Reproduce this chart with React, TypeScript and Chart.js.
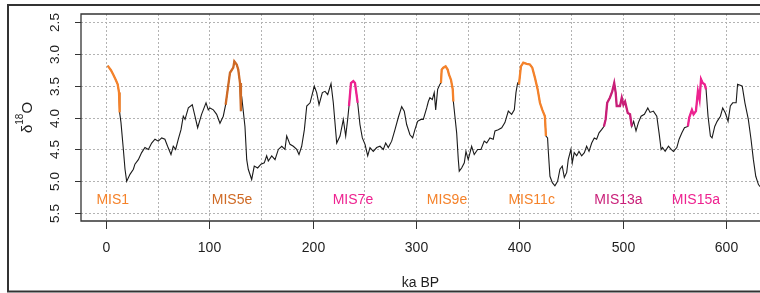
import { useEffect, useRef } from "react";
import { Chart, registerables } from "chart.js";

Chart.register(...registerables);

// Age (ka BP) and benthic δ18O values
const ages = [
  1.6, 3, 4.8, 7.1, 9.4, 11.3, 12.6, 13.2, 14.5, 16.8, 18.4, 20, 23.2, 26.5, 28, 31.3, 34.5, 37.7, 41, 44.2,
  47.4, 50.6, 53.9, 57, 59.6, 62.9, 65.1, 67.4, 70, 72.6, 74.8, 76.5, 79.7, 83.5, 86.1, 88.7, 92.5, 96.8, 99,
  100.6, 103.9, 107.1, 110.3, 113.5, 115.8, 117.8, 120, 123.2, 124.2, 126.5, 128, 129.7, 130.6, 131.3, 134.5,
  136.2, 137.7, 141, 143.5, 146.8, 150, 153.2, 155.5, 157.1, 160.4, 163.6, 166.8, 170.1, 173.2, 174.9, 178.1,
  181.3, 184.6, 186.8, 189.4, 192, 194.3, 197.5, 199.1, 201.6, 203.9, 206.2, 209.4, 212, 214.6, 217.8, 220,
  223.3, 226.5, 229.7, 232, 233.9, 235.2, 237.1, 239.4, 241, 243.6, 245.8, 248.1, 250.7, 253.3, 255.5, 258.7,
  262, 265.2, 268.4, 270.7, 273.2, 276.5, 279.7, 282.9, 286.2, 288.7, 291, 294.2, 296.8, 299, 301.6, 304.8,
  307.1, 310.4, 312, 313.5, 315.8, 317.7, 319.1, 321, 323.2, 324.2, 324.9, 326.5, 328.7, 330.7, 332, 333.9,
  335.6, 336.2, 337.7, 339.4, 341, 341.9, 344.2, 346.8, 348.4, 350.6, 353.9, 356.4, 359.7, 362.9, 366.1, 368.5,
  371.6, 374.8, 376.5, 379.7, 383, 386.1, 389.4, 392.6, 395.2, 396.8, 398.4, 399.7, 401.6, 403.9, 407.1, 410.3,
  412.6, 415.2, 417.8, 420, 422.3, 424.8, 425.8, 427.4, 428, 429.7, 432, 434.5, 437.1, 439.4, 441.6, 443.6,
  445.9, 447.4, 450, 451.3, 453.2, 455.6, 457.8, 460.4, 463, 465.2, 467.5, 470.1, 472.6, 474.9, 477.2, 479.7,
  481.9, 483.6, 485.1, 487.7, 490, 491.9, 493.3, 494.3, 497.5, 499.2, 500.8, 502.4, 505, 507.2, 508.9, 510.7,
  513, 515.3, 517.9, 521.1, 524.4, 526.6, 529.8, 533.1, 535.3, 537.3, 538.6, 541.2, 544.4, 547, 549.2, 552.5,
  554.7, 557.4, 559.9, 563.2, 564.5, 567.1, 568.7, 571, 572.9, 574.5, 575.9, 577.5, 579.4, 580.8, 582.7, 585,
  586.6, 589.2, 591.5, 594.7, 596.9, 599.5, 602.1, 604.3, 606.6, 609.9, 611.3, 614.5, 615.8, 618.4, 621.7,
  624.3, 626.6, 628.9, 631.5, 634,
];

const d18O = [
  3.19, 3.22, 3.26, 3.33, 3.41, 3.48, 3.61, 3.92, 4.08, 4.5, 4.81, 5.0, 4.89, 4.81, 4.73, 4.66, 4.55, 4.47, 4.5, 4.4,
  4.34, 4.37, 4.32, 4.34, 4.45, 4.58, 4.45, 4.5, 4.34, 4.19, 3.98, 4.03, 3.85, 3.8, 3.98, 4.16, 3.95, 3.77, 3.88,
  3.85, 3.88, 3.95, 4.09, 3.98, 3.8, 3.56, 3.3, 3.22, 3.12, 3.17, 3.25, 3.46, 3.9, 3.67, 4.14,
  4.66, 4.81, 4.97, 4.76, 4.79, 4.73, 4.71, 4.6, 4.68, 4.6, 4.66, 4.5, 4.45, 4.5, 4.29, 4.42,
  4.45, 4.5, 4.58, 4.45, 4.19, 3.82, 3.77, 3.67, 3.51, 3.61, 3.8, 3.61, 3.59, 3.64, 3.47, 3.77,
  4.4, 4.29, 4.03, 4.29, 4.03, 3.82, 3.46, 3.43, 3.46, 3.77, 4.11, 4.32, 4.42, 4.6, 4.47, 4.53,
  4.47, 4.45, 4.5, 4.4, 4.47, 4.37, 4.19, 4.0, 3.83, 3.9, 4.11, 4.27, 4.32, 4.19, 4.06, 4.03,
  4.03, 3.85, 3.75, 3.69, 3.72, 3.61, 3.88, 3.56, 3.48, 3.46, 3.25, 3.22, 3.2, 3.25, 3.33, 3.41,
  3.56, 3.75, 3.98, 4.24, 4.66, 4.84, 4.79, 4.71, 4.53, 4.66, 4.45, 4.58, 4.5, 4.5, 4.37, 4.4,
  4.32, 4.34, 4.21, 4.19, 4.16, 4.08, 3.9, 3.95, 3.88, 3.61, 3.46, 3.48, 3.2, 3.14, 3.16, 3.17,
  3.22, 3.38, 3.56, 3.77, 3.88, 3.98, 4.29, 4.32, 4.5, 4.92, 5.02, 5.07, 5.0, 4.81, 4.76, 4.94,
  4.86, 4.66, 4.5, 4.71, 4.55, 4.6, 4.53, 4.6, 4.55, 4.45, 4.53, 4.4, 4.32, 4.34, 4.24, 4.19,
  4.14, 4.03, 3.77, 3.69, 3.59, 3.46, 3.61, 3.82, 3.82, 3.69, 3.8, 3.75, 3.93, 3.95, 4.14, 4.06,
  4.21, 4.08, 3.98, 3.95, 3.85, 3.92, 3.9, 3.98, 4.24, 4.5, 4.47, 4.53, 4.45, 4.5, 4.53, 4.47,
  4.34, 4.24, 4.16, 4.14, 4.0, 3.88, 3.95, 3.9, 3.59, 3.72, 3.4, 3.46, 3.48, 3.56, 3.98, 4.29,
  4.32, 4.14, 4.06, 3.98, 3.85, 3.93, 4.06, 3.82, 3.77, 3.77, 3.48, 3.5, 3.51, 3.77, 4.03,
  4.34, 4.66, 4.92, 5.05, 5.1,
];

// Marine isotope stage highlights
const misNames = ["MIS1", "MIS5e", "MIS7e", "MIS9e", "MIS11c", "MIS13a", "MIS15a"];
const misStart = [0, 115.8, 235.2, 324.2, 399.7, 481.9, 563.2];
const misEnd = [13.2, 130.6, 243.6, 336.2, 425.8, 508.9, 580.8];
const misLabelAge = [6.5, 122, 239, 330, 412, 496, 571];
const misColors = ["#F5822A", "#CF6A25", "#EE2290", "#F5822A", "#F5822A", "#C91E78", "#EE2290"];
const misLabelLevel = 5.3;

// Axes
const xTicks = [0, 100, 200, 300, 400, 500, 600];
const xGrid = [0, 50, 100, 150, 200, 250, 300, 350, 400, 450, 500, 550, 600];
const yTicks = [2.5, 3.0, 3.5, 4.0, 4.5, 5.0, 5.5];
const xTitle = "ka BP";

const FONT = "'Liberation Sans', Arial, sans-serif";

const decorPlugin = {
  id: "decor",
  beforeDatasetsDraw(chart: any) {
    const { ctx, chartArea, scales } = chart;
    const { left, right, top, bottom } = chartArea;
    ctx.save();
    ctx.strokeStyle = "#b3b3b3";
    ctx.lineWidth = 1;
    ctx.setLineDash([2, 2]);
    for (const v of xGrid) {
      const px = Math.round(scales.x.getPixelForValue(v)) + 0.5;
      ctx.beginPath();
      ctx.moveTo(px, top);
      ctx.lineTo(px, bottom);
      ctx.stroke();
    }
    for (const v of yTicks) {
      const py = Math.round(scales.y.getPixelForValue(v)) + 0.5;
      ctx.beginPath();
      ctx.moveTo(left, py);
      ctx.lineTo(right, py);
      ctx.stroke();
    }
    ctx.restore();
  },
  afterDatasetsDraw(chart: any) {
    const { ctx, chartArea, scales, width, height } = chart;
    const { left, right, top, bottom } = chartArea;
    ctx.save();
    ctx.setLineDash([]);
    // plot box (left, top, bottom)
    ctx.strokeStyle = "#333";
    ctx.lineWidth = 1.3;
    ctx.beginPath();
    ctx.moveTo(right + 5, top);
    ctx.lineTo(left, top);
    ctx.lineTo(left, bottom);
    ctx.lineTo(right + 5, bottom);
    ctx.stroke();

    // y ticks and rotated labels
    ctx.lineWidth = 1;
    ctx.fillStyle = "#1e1e1e";
    ctx.font = `13.5px ${FONT}`;
    ctx.textAlign = "center";
    ctx.textBaseline = "middle";
    for (const v of yTicks) {
      const py = Math.round(scales.y.getPixelForValue(v)) + 0.5;
      ctx.beginPath();
      ctx.moveTo(left - 6, py);
      ctx.lineTo(left, py);
      ctx.stroke();
      ctx.save();
      ctx.translate(55, py);
      ctx.rotate(-Math.PI / 2);
      ctx.fillText(v.toFixed(1), 0, 0);
      ctx.restore();
    }
    // x ticks and labels
    ctx.font = `14px ${FONT}`;
    for (const v of xTicks) {
      const px = Math.round(scales.x.getPixelForValue(v)) + 0.5;
      ctx.beginPath();
      ctx.moveTo(px, bottom);
      ctx.lineTo(px, bottom + 8);
      ctx.stroke();
      ctx.fillText(String(v), px, 248);
    }
    // x title
    ctx.fillText(xTitle, (left + right) / 2, 283);

    // y title δ18O (rotated)
    ctx.save();
    ctx.translate(32, (top + bottom) / 2);
    ctx.rotate(-Math.PI / 2);
    ctx.textBaseline = "alphabetic";
    ctx.textAlign = "left";
    ctx.font = `15px ${FONT}`;
    const wD = ctx.measureText("δ").width;
    ctx.font = `10px ${FONT}`;
    const w18 = ctx.measureText("18").width;
    ctx.font = `15px ${FONT}`;
    const wO = ctx.measureText("O").width;
    const total = wD + w18 + wO;
    let xx = -total / 2;
    ctx.fillText("δ", xx, 0);
    xx += wD;
    ctx.font = `10px ${FONT}`;
    ctx.fillText("18", xx, -9);
    xx += w18;
    ctx.font = `15px ${FONT}`;
    ctx.fillText("O", xx, 0);
    ctx.restore();

    // MIS labels
    ctx.font = `14px ${FONT}`;
    ctx.textAlign = "center";
    ctx.textBaseline = "middle";
    misNames.forEach((name, i) => {
      ctx.fillStyle = misColors[i];
      ctx.fillText(name, scales.x.getPixelForValue(misLabelAge[i]), scales.y.getPixelForValue(misLabelLevel));
    });

    // outer frame
    ctx.strokeStyle = "#333";
    ctx.lineWidth = 2;
    ctx.strokeRect(8, 5, width + 20, height - 6.5);
    ctx.restore();
  },
};

export default function App() {
  const canvasRef = useRef<HTMLCanvasElement | null>(null);

  useEffect(() => {
    const canvas = canvasRef.current;
    if (!canvas) return;
    const mainData = ages.map((a, i) => ({ x: a, y: d18O[i] }));
    const datasets: any[] = [
      {
        data: mainData,
        borderColor: "#1a1a1a",
        borderWidth: 1.1,
        pointRadius: 0,
        tension: 0,
        order: 2,
      },
    ];
    misNames.forEach((name, i) => {
      datasets.push({
        label: name,
        data: mainData.filter((p) => p.x >= misStart[i] && p.x <= misEnd[i]),
        borderColor: misColors[i],
        borderWidth: 2.3,
        pointRadius: 0,
        tension: 0,
        order: 1,
      });
    });
    const chart = new Chart(canvas, {
      type: "line",
      data: { datasets },
      options: {
        animation: false,
        responsive: false,
        events: [],
        layout: { padding: { left: 81, top: 14, right: 0, bottom: 72 } },
        plugins: { legend: { display: false }, tooltip: { enabled: false } },
        scales: {
          x: { type: "linear", min: -24.2, max: 633, display: false },
          y: { type: "linear", min: 2.38, max: 5.62, reverse: true, display: false },
        },
      },
      plugins: [decorPlugin],
    });
    return () => chart.destroy();
  }, []);

  return (
    <div style={{ position: "fixed", left: 0, top: 0, width: 760, height: 293, background: "#fff" }}>
      <canvas ref={canvasRef} width={760} height={293} style={{ display: "block" }} />
    </div>
  );
}
